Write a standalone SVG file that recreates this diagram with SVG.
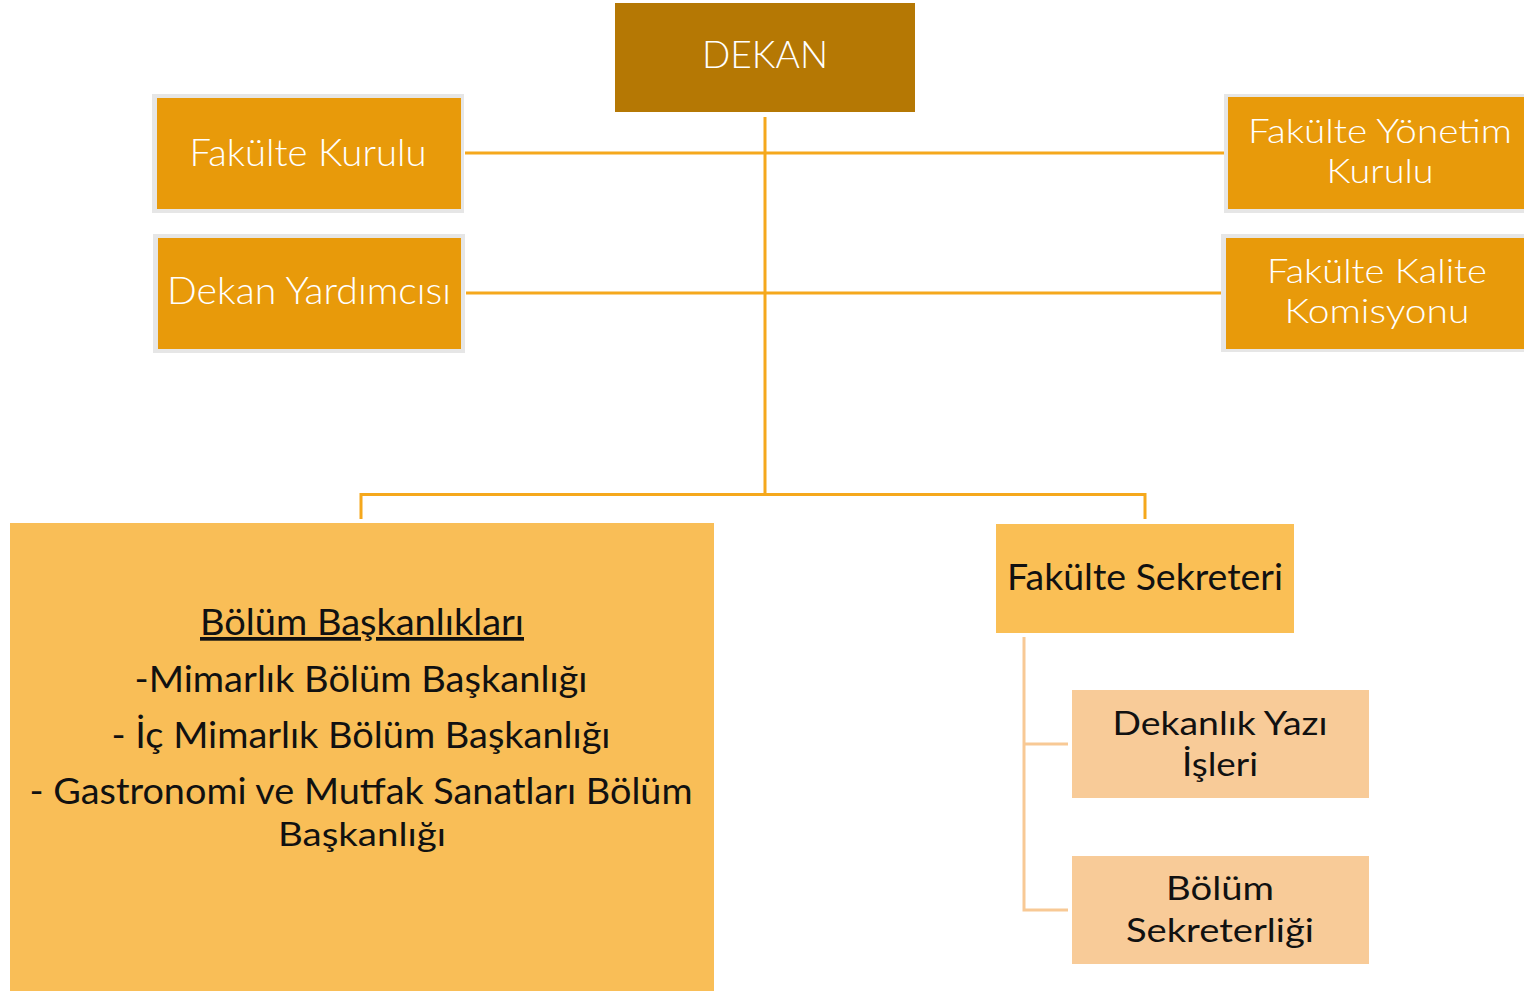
<svg xmlns="http://www.w3.org/2000/svg" width="1524" height="991" viewBox="0 0 1524 991">
<style>
.w{font-family:Lato,"Open Sans","Liberation Sans",sans-serif;font-weight:300;font-size:38px;fill:#ffffff;text-anchor:middle}
.b{font-family:Lato,"Open Sans","Liberation Sans",sans-serif;font-weight:400;font-size:37px;fill:#111111;text-anchor:middle}
.t{font-size:33px}
.frame{fill:#E6E6E6}
.main{fill:#E89A0A}
.ln{stroke:#F5A81C;stroke-width:3;fill:none}
.ln2{stroke:#F8C995;stroke-width:3;fill:none}
</style>
<rect width="1524" height="991" fill="#ffffff"/>
<g id="connectors">
<line class="ln" x1="465" y1="153" x2="1225" y2="153"/>
<line class="ln" x1="466" y1="293" x2="1222" y2="293"/>
<line class="ln" x1="765" y1="117" x2="765" y2="495"/>
<polyline class="ln" points="361,519 361,494.5 1145,494.5 1145,519"/>
<polyline class="ln2" points="1024,637 1024,910 1068,910"/>
<line class="ln2" x1="1024" y1="744" x2="1068" y2="744"/>
</g>
<g id="dekan">
<rect x="615" y="3" width="300" height="109" fill="#B57804"/>
<text class="w" x="765" y="68" textLength="126" lengthAdjust="spacingAndGlyphs">DEKAN</text>
</g>
<g id="fakulte-kurulu">
<rect class="frame" x="152" y="94" width="312" height="119"/>
<rect class="main" x="157" y="98" width="304" height="111"/>
<text class="w" x="308" y="166" textLength="237" lengthAdjust="spacingAndGlyphs">Fakülte Kurulu</text>
</g>
<g id="dekan-yardimcisi">
<rect class="frame" x="153" y="234" width="312" height="119"/>
<rect class="main" x="158" y="238" width="303" height="111"/>
<text class="w" x="309" y="304" textLength="284" lengthAdjust="spacingAndGlyphs">Dekan Yardımcısı</text>
</g>
<g id="fakulte-yonetim-kurulu">
<rect class="frame" x="1224" y="94" width="300" height="119"/>
<rect class="main" x="1228" y="97" width="296" height="112"/>
<text class="w t" x="1380" y="143" textLength="264" lengthAdjust="spacingAndGlyphs">Fakülte Yönetim</text>
<text class="w t" x="1380" y="183" textLength="107" lengthAdjust="spacingAndGlyphs">Kurulu</text>
</g>
<g id="fakulte-kalite-komisyonu">
<rect class="frame" x="1221" y="234" width="303" height="118"/>
<rect class="main" x="1226" y="238" width="298" height="111"/>
<text class="w t" x="1377" y="283" textLength="220" lengthAdjust="spacingAndGlyphs">Fakülte Kalite</text>
<text class="w t" x="1377" y="323" textLength="185" lengthAdjust="spacingAndGlyphs">Komisyonu</text>
</g>
<g id="bolum-baskanliklari">
<rect x="10" y="523" width="704" height="468" fill="#F9BE57"/>
<text class="b" x="362" y="635" textLength="324" lengthAdjust="spacingAndGlyphs" text-decoration="underline">Bölüm Başkanlıkları</text>
<text class="b" x="361" y="692" textLength="453" lengthAdjust="spacingAndGlyphs">-Mimarlık Bölüm Başkanlığı</text>
<text class="b" x="361" y="748" textLength="499" lengthAdjust="spacingAndGlyphs">- İç Mimarlık Bölüm Başkanlığı</text>
<text class="b" x="361" y="804" textLength="663" lengthAdjust="spacingAndGlyphs">- Gastronomi ve Mutfak Sanatları Bölüm</text>
<text class="b t" x="362" y="846" textLength="168" lengthAdjust="spacingAndGlyphs">Başkanlığı</text>
</g>
<g id="fakulte-sekreteri">
<rect x="996" y="524" width="298" height="109" fill="#FABF55"/>
<text class="b" x="1145" y="590" textLength="276" lengthAdjust="spacingAndGlyphs">Fakülte Sekreteri</text>
</g>
<g id="dekanlik-yazi-isleri">
<rect x="1072" y="690" width="297" height="108" fill="#F8CB98"/>
<text class="b t" x="1220" y="735" textLength="215" lengthAdjust="spacingAndGlyphs">Dekanlık Yazı</text>
<text class="b t" x="1220" y="776" textLength="76" lengthAdjust="spacingAndGlyphs">İşleri</text>
</g>
<g id="bolum-sekreterligi">
<rect x="1072" y="856" width="297" height="108" fill="#F8CB98"/>
<text class="b t" x="1220" y="900" textLength="108" lengthAdjust="spacingAndGlyphs">Bölüm</text>
<text class="b t" x="1220" y="942" textLength="188" lengthAdjust="spacingAndGlyphs">Sekreterliği</text>
</g>
</svg>
